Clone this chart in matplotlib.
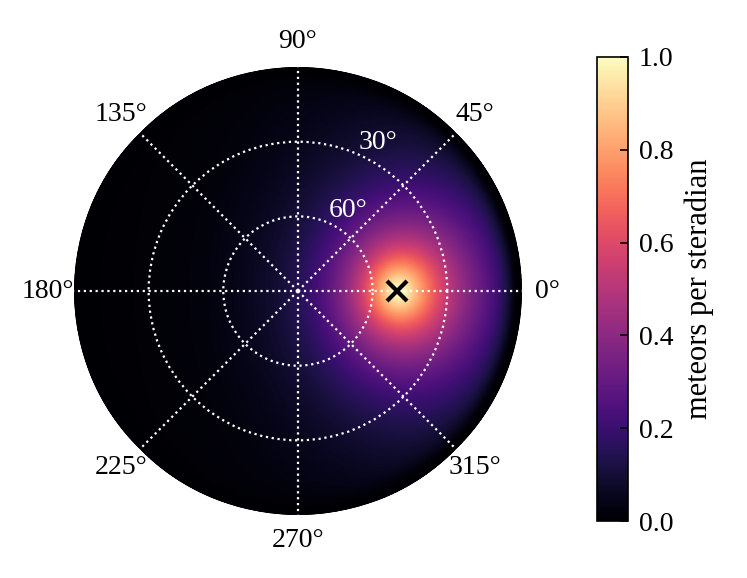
import numpy as np
import matplotlib.pyplot as plt

plt.rcParams["font.family"] = ["Liberation Serif", "DejaVu Serif"]
plt.rcParams["font.size"] = 20

# radiant position (azimuth deg, zenith distance deg)
radiant_az = 0.0
radiant_zd = 40.0

# model parameters for the density field
falloff_deg = 20.0
core_soft_deg = 5.0
zenith_power = 0.65
extinction_k = 0.17

ring_r = [30, 60]
ring_labels = ["60°", "30°"]
theta_ticks = [0, 45, 90, 135, 180, 225, 270, 315]
cbar_ticks = [0.0, 0.2, 0.4, 0.6, 0.8, 1.0]

az = np.radians(np.linspace(0, 360, 361))
zd = np.linspace(0, 89.95, 241)
AZ, ZD = np.meshgrid(az, zd)

z0 = np.radians(radiant_zd)
a0 = np.radians(radiant_az)
zr = np.radians(ZD)
cosd = np.cos(z0) * np.cos(zr) + np.sin(z0) * np.sin(zr) * np.cos(AZ - a0)
d = np.degrees(np.arccos(np.clip(cosd, -1, 1)))

# angular falloff from the radiant, brighter toward the horizon, extinction at the rim
secz = 1 / np.cos(zr)
density = np.exp(-np.sqrt(d**2 + core_soft_deg**2) / falloff_deg)
density = density * secz**zenith_power * np.exp(-extinction_k * (secz - 1))
density = density / density.max()

fig = plt.figure(figsize=(7.47, 5.78), dpi=100)
ax = fig.add_axes([0.099, 0.109, 0.5997, 0.775], projection="polar")
mesh = ax.pcolormesh(AZ, ZD, density, cmap="magma", vmin=0, vmax=1,
                     shading="gouraud", rasterized=True)
ax.plot(np.radians(radiant_az), radiant_zd, marker="x", color="black",
        markersize=14, mew=3)

ax.set_ylim(0, 90)
ax.set_yticks(ring_r)
ax.set_yticklabels(ring_labels, color="white")
ax.set_rlabel_position(66)
ax.set_xticks(np.radians(theta_ticks))
ax.set_xticklabels([f"{t}°" for t in theta_ticks])
ax.tick_params(axis="x", pad=8)
ax.grid(True, color="white", linestyle=":", linewidth=1.6)
ax.spines["polar"].set_visible(False)

cax = fig.add_axes([0.799, 0.0986, 0.0415, 0.803])
cb = fig.colorbar(mesh, cax=cax, ticks=cbar_ticks)
cb.ax.tick_params(direction="in", length=6, width=1.2, pad=8)
cb.outline.set_linewidth(1.2)
cb.set_label("meteors per steradian", fontsize=22, labelpad=8)

fig.savefig("out.png", dpi=100)
